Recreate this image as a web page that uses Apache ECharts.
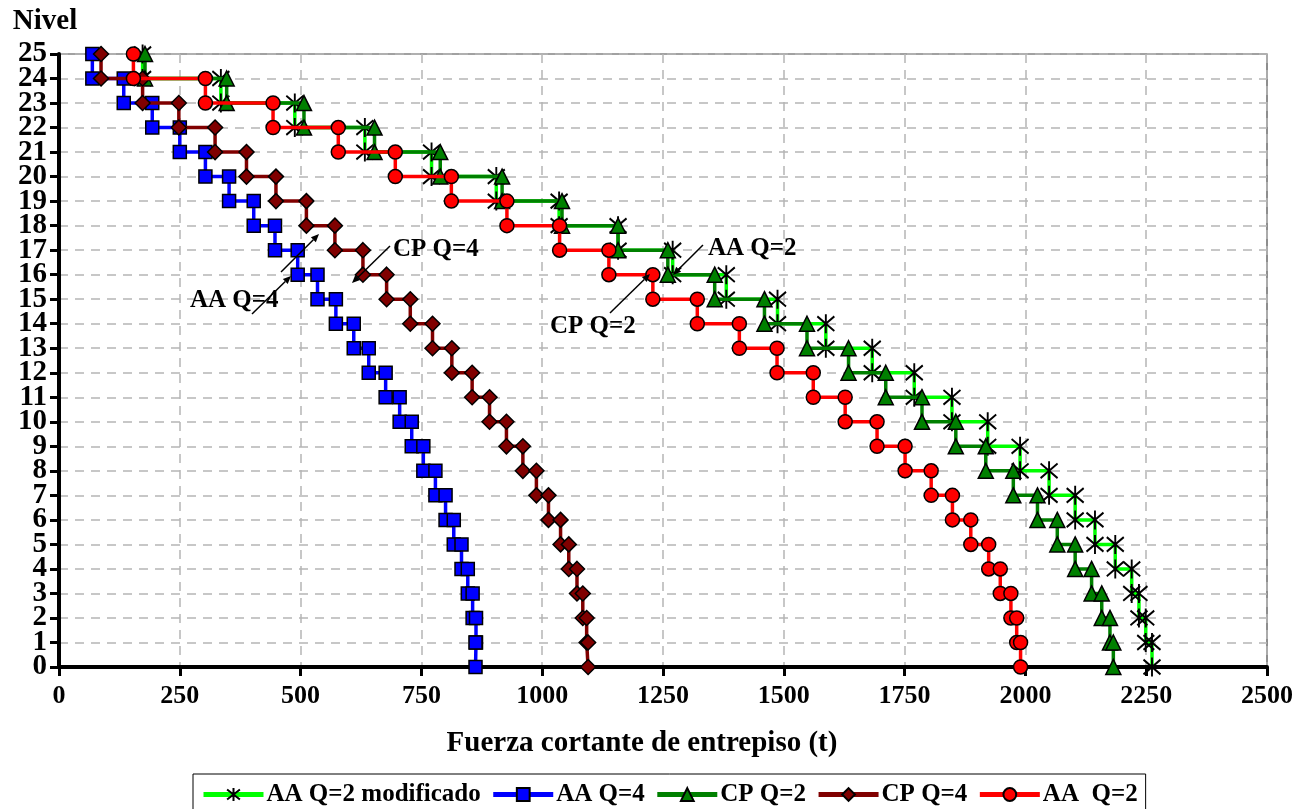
<!DOCTYPE html>
<html><head><meta charset="utf-8">
<script src="https://cdn.jsdelivr.net/npm/echarts@6/dist/echarts.min.js"></script>
<style>html,body{margin:0;padding:0;background:#fff}#c{width:1309px;height:809px}</style>
</head><body><div id="c"></div>
<script>
// Story numbers (each story spans from level s down to level s-1)
const stories = [25,24,23,22,21,20,19,18,17,16,15,14,13,12,11,10,9,8,7,6,5,4,3,2,1];
// Level tick labels (bottom to top)
const levelLabels = ['0','1','2','3','4','5','6','7','8','9','10','11','12','13','14','15','16','17','18','19','20','21','22','23','24','25'];
// Storey shear force (t) per story, top to bottom
const aaQ2mod = [173,335,488,633,771,905,1035,1157,1270,1381,1487,1587,1683,1770,1848,1922,1989,2049,2103,2144,2186,2220,2235,2249,2262];
const aaQ4    = [69,134,193,250,303,352,403,447,494,535,573,610,641,676,705,730,754,779,800,817,833,846,856,863,862];
const cpQ2    = [178,347,507,653,789,917,1041,1157,1260,1357,1460,1548,1634,1711,1786,1856,1918,1975,2025,2066,2103,2137,2158,2175,2182];
const cpQ4    = [87,173,248,323,388,449,512,571,629,678,727,773,813,855,891,926,960,988,1013,1038,1055,1072,1084,1092,1095];
const aaQ2    = [154,303,443,578,696,812,927,1036,1138,1229,1321,1408,1486,1561,1627,1693,1751,1805,1849,1887,1924,1948,1970,1982,1990];
const seriesNames = ['AA Q=2 modificado','AA Q=4','CP Q=2','CP Q=4','AA  Q=2'];

const FONT = '"Liberation Serif","Times New Roman",serif';

function steps(vals){
  const pts = [];
  vals.forEach((v,i)=>{ const s = stories[i]; pts.push([v,s],[v,s-1]); });
  return pts;
}
function mk(name, vals, lineColor, symbol, size, fill, z, bw){
  return {
    name, type:'line', data: steps(vals), z, yAxisIndex:0,
    symbol, symbolSize: size, showSymbol:true, showAllSymbol:true,
    lineStyle:{color:lineColor, width:3.5},
    itemStyle:{color:fill, borderColor:'#000', borderWidth:bw||1.5},
    emphasis:{disabled:true}, animation:false
  };
}
const star = 'path://M0,0L10,10M10,0L0,10M5,-1.5L5,11.5';

function arrow(x1,y1,x2,y2){
  const a = Math.atan2(y2-y1,x2-x1), L=8, W=3.5;
  const bx = x2 - L*Math.cos(a), by = y2 - L*Math.sin(a);
  const px = -Math.sin(a)*W, py = Math.cos(a)*W;
  return [
    {type:'line', shape:{x1,y1,x2:bx,y2:by}, style:{stroke:'#000', lineWidth:1.5}, z:100},
    {type:'polygon', shape:{points:[[x2,y2],[bx+px,by+py],[bx-px,by-py]]}, style:{fill:'#000'}, z:100}
  ];
}
function label(text,x,y){
  return {type:'text', left:x, top:y, z:100, style:{text, font:'bold 25px '+FONT, fill:'#000'}};
}

const chart = echarts.init(document.getElementById('c'), null, {renderer:'canvas'});
chart.setOption({
  animation:false,
  backgroundColor:'#fff',
  grid:{left:59, top:54, width:1208, height:613, show:true, borderColor:'#444', borderWidth:1.2, backgroundColor:'transparent'},
  xAxis:{
    type:'value', min:0, max:2500, interval:250,
    name:'Fuerza cortante de entrepiso (t)', nameLocation:'middle', nameGap:62,
    nameTextStyle:{color:'#000', fontWeight:'bold', fontSize:29, fontFamily:FONT, padding:[0,42,0,0]},
    axisLine:{show:true, onZero:false, lineStyle:{color:'#000', width:4}},
    axisTick:{show:true, inside:false, length:9, lineStyle:{color:'#000', width:3}},
    axisLabel:{color:'#000', fontWeight:'bold', fontSize:26, fontFamily:FONT, margin:16,
      showMinLabel:true, showMaxLabel:true, hideOverlap:false, formatter:(v)=>String(v)},
    splitLine:{show:true, lineStyle:{color:'#b5b5b5', width:1.5, type:[9,7]}}
  },
  yAxis:[{
    type:'value', min:0, max:25, interval:1, position:'left',
    name:'Nivel', nameLocation:'end', nameGap:18,
    nameTextStyle:{color:'#000', fontWeight:'bold', fontSize:29, fontFamily:FONT, padding:[0,28,0,0]},
    axisLine:{show:false},
    axisTick:{show:false},
    axisLabel:{show:false},
    splitLine:{show:true, lineStyle:{color:'#b5b5b5', width:1.5, type:[9,7]}}
  },{
    type:'category', data: levelLabels, boundaryGap:false, position:'left',
    axisLine:{show:true, onZero:false, lineStyle:{color:'#000', width:4}},
    axisTick:{show:true, inside:false, length:9, interval:0, lineStyle:{color:'#000', width:3}},
    axisLabel:{color:'#000', fontWeight:'bold', fontSize:29, fontFamily:FONT, margin:12, interval:0, hideOverlap:false},
    splitLine:{show:false}
  }],
  legend:{
    left:193, top:774, padding:[8,8,8,8], itemGap:10, itemWidth:60, itemHeight:16,
    borderColor:'#000', borderWidth:1, backgroundColor:'#fff',
    lineStyle:{width:5},
    textStyle:{color:'#000', fontWeight:'bold', fontSize:25, fontFamily:FONT, padding:[0,0,0,-2]},
    data: seriesNames
  },
  series:[
    mk(seriesNames[0], aaQ2mod, '#00ff00', star, [17,19], '#000', 2, 2),
    mk(seriesNames[1], aaQ4, '#0000ff', 'rect', 13, '#0000ff', 3),
    mk(seriesNames[2], cpQ2, '#008000', 'triangle', 15, '#008000', 4),
    mk(seriesNames[3], cpQ4, '#800000', 'diamond', 15, '#800000', 5),
    mk(seriesNames[4], aaQ2, '#ff0000', 'circle', 14, '#ff0000', 6)
  ],
  graphic:[].concat(
    arrow(252,314,291,276),
    arrow(281,272,319,234),
    arrow(390,246,352,283),
    arrow(703,245,673,275),
    arrow(610,313,650,274),
    [label('AA Q=4',190,288), label('CP Q=4',393,237), label('AA Q=2',708,236), label('CP Q=2',550,314)]
  )
});
</script>
</body></html>
